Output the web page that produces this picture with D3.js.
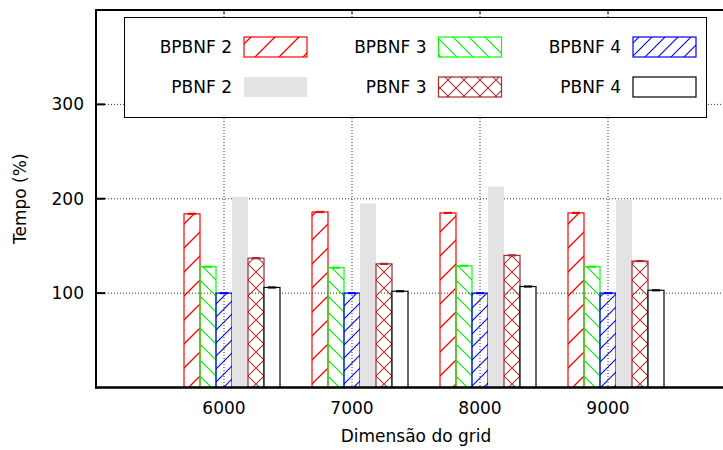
<!DOCTYPE html>
<html>
<head>
<meta charset="utf-8">
<script src="https://cdn.jsdelivr.net/npm/d3@7"></script>
<style>
    body { margin: 0; background: #fff; }
    text { font-family: 'DejaVu Sans', sans-serif; font-size: 17px; fill: #000; }
</style>
</head>
<body>
<div id="chart"></div>
<script>
// Data
const grids = [6000, 7000, 8000, 9000];
const seriesNames = ['BPBNF 2', 'BPBNF 3', 'BPBNF 4', 'PBNF 2', 'PBNF 3', 'PBNF 4'];
const bpbnf2 = [184, 186, 185, 185];
const bpbnf3 = [128, 127, 129, 128];
const bpbnf4 = [100, 100, 100, 100];
const pbnf2 = [202, 195, 213, 199];
const pbnf3 = [137, 131, 140, 134];
const pbnf4 = [106, 102, 107, 103];
const yTicks = [100, 200, 300];
const xTicks = grids;

const seriesValues = [bpbnf2, bpbnf3, bpbnf4, pbnf2, pbnf3, pbnf4];

// fill style per series (same order as seriesNames)
const styles = [
    { fill: 'url(#hatchRed)', stroke: '#ff0000' },
    { fill: 'url(#hatchGreen)', stroke: '#00ff00' },
    { fill: 'url(#hatchBlue)', stroke: '#0000ff' },
    { fill: '#e3e3e3', stroke: 'none' },
    { fill: 'url(#crossBrown)', stroke: '#a52a2a' },
    { fill: '#ffffff', stroke: '#000000' },
];

const W = 723, H = 450;
const svg = d3.select('#chart').append('svg').attr('width', W).attr('height', H);

// patterns
const defs = svg.append('defs');
function hatch(id, size, d, color, sw) {
    defs.append('pattern')
        .attr('id', id)
        .attr('patternUnits', 'userSpaceOnUse')
        .attr('width', size)
        .attr('height', size)
        .append('path')
        .attr('d', d)
        .style('stroke', color)
        .style('stroke-width', sw + 'px')
        .style('fill', 'none');
}
hatch('hatchRed', 24, 'M0,24 L24,0 M-6,6 L6,-6 M18,30 L30,18', 'rgb(255,0,0)', 1.3);
hatch('hatchGreen', 16, 'M0,0 L16,16 M-4,12 L4,20 M12,-4 L20,4', 'rgb(0,235,0)', 1.1);
hatch('hatchBlue', 13, 'M0,13 L13,0 M-4,4 L4,-4 M9,17 L17,9', 'rgb(0,0,255)', 1.1);
hatch('crossBrown', 16, 'M0,0 L16,16 M0,16 L16,0', 'rgb(175,50,50)', 1.1);

// scales
const x = d3.scaleLinear().domain([5000, 10000]).range([96, 736]);
const y = d3.scaleLinear().domain([0, 400]).range([387.5, 10]);
const slot = 1000 / 8; // 6 bars + gap of 2
const barW = x(slot) - x(0);

// grid
svg.append('g')
    .selectAll('line')
    .data(yTicks)
    .enter()
    .append('line')
    .attr('x1', x(5000) + 9)
    .attr('x2', W)
    .attr('y1', (d) => y(d))
    .attr('y2', (d) => y(d))
    .attr('stroke', '#333')
    .attr('stroke-width', 1)
    .attr('stroke-dasharray', '1,2');

svg.append('g')
    .selectAll('line')
    .data(xTicks)
    .enter()
    .append('line')
    .attr('x1', (d) => x(d))
    .attr('x2', (d) => x(d))
    .attr('y1', y(400))
    .attr('y2', y(0))
    .attr('stroke', '#333')
    .attr('stroke-width', 1)
    .attr('stroke-dasharray', '1,2');

// bars
seriesValues.forEach((vals, s) => {
    const g = svg.append('g');
    g.selectAll('rect')
        .data(vals)
        .enter()
        .append('rect')
        .attr('x', (d, i) => x(grids[i] + (s - 2.5) * slot))
        .attr('y', (d) => y(d))
        .attr('width', barW)
        .attr('height', (d) => y(0) - y(d))
        .attr('fill', styles[s].fill)
        .attr('stroke', styles[s].stroke)
        .attr('stroke-width', 1.2);

    // small error caps on top
    if (styles[s].stroke !== 'none') {
        g.selectAll('line')
            .data(vals)
            .enter()
            .append('line')
            .attr('x1', (d, i) => x(grids[i] + (s - 2) * slot) - 4)
            .attr('x2', (d, i) => x(grids[i] + (s - 2) * slot) + 4)
            .attr('y1', (d) => y(d))
            .attr('y2', (d) => y(d))
            .attr('stroke', styles[s].stroke)
            .attr('stroke-width', 2.2);
    }
});

// border and axes
const axisG = svg.append('g');
axisG.append('line')
    .attr('x1', x(5000)).attr('x2', W)
    .attr('y1', y(400)).attr('y2', y(400))
    .attr('stroke', '#000').attr('stroke-width', 2);
axisG.append('line')
    .attr('x1', x(5000)).attr('x2', x(5000))
    .attr('y1', y(400) - 1).attr('y2', y(0) + 1)
    .attr('stroke', '#000').attr('stroke-width', 2);
axisG.append('line')
    .attr('x1', x(5000) - 1).attr('x2', W)
    .attr('y1', y(0)).attr('y2', y(0))
    .attr('stroke', '#000').attr('stroke-width', 2.5);

// y ticks (inward)
axisG.selectAll('.ytick')
    .data(yTicks)
    .enter()
    .append('line')
    .attr('x1', x(5000))
    .attr('x2', x(5000) + 9)
    .attr('y1', (d) => y(d))
    .attr('y2', (d) => y(d))
    .attr('stroke', '#000')
    .attr('stroke-width', 2);

// x ticks on top border (mirror)
axisG.selectAll('.xtick')
    .data(xTicks)
    .enter()
    .append('line')
    .attr('x1', (d) => x(d))
    .attr('x2', (d) => x(d))
    .attr('y1', y(400))
    .attr('y2', y(400) + 4)
    .attr('stroke', '#000')
    .attr('stroke-width', 1);

axisG.selectAll('.ylab')
    .data(yTicks)
    .enter()
    .append('text')
    .attr('x', 84)
    .attr('y', (d) => y(d))
    .attr('dy', '0.36em')
    .attr('text-anchor', 'end')
    .text((d) => d);

axisG.selectAll('.xlab')
    .data(xTicks)
    .enter()
    .append('text')
    .attr('x', (d) => x(d))
    .attr('y', 414)
    .attr('text-anchor', 'middle')
    .text((d) => d);

svg.append('text')
    .attr('x', (x(5000) + x(10000)) / 2)
    .attr('y', 442)
    .attr('text-anchor', 'middle')
    .text('Dimensão do grid');

svg.append('text')
    .attr('transform', `translate(26,${(y(0) + y(400)) / 2}) rotate(-90)`)
    .attr('text-anchor', 'middle')
    .text('Tempo (%)');

// legend
const legend = svg.append('g');
legend.append('rect')
    .attr('x', 124.5)
    .attr('y', 17.5)
    .attr('width', 582)
    .attr('height', 100)
    .attr('fill', '#fff')
    .attr('stroke', '#000')
    .attr('stroke-width', 1);

const colX = [244, 438.5, 633];
const rowY = [47, 87];
seriesNames.forEach((name, s) => {
    const cx = colX[s % 3];
    const cy = rowY[Math.floor(s / 3)];
    legend.append('text')
        .attr('x', cx - 12)
        .attr('y', cy)
        .attr('dy', '0.36em')
        .attr('text-anchor', 'end')
        .text(name);
    legend.append('rect')
        .attr('x', cx)
        .attr('y', cy - 10)
        .attr('width', 63)
        .attr('height', 20)
        .attr('fill', styles[s].fill)
        .attr('stroke', styles[s].stroke)
        .attr('stroke-width', 1.2);
});
</script>
</body>
</html>
